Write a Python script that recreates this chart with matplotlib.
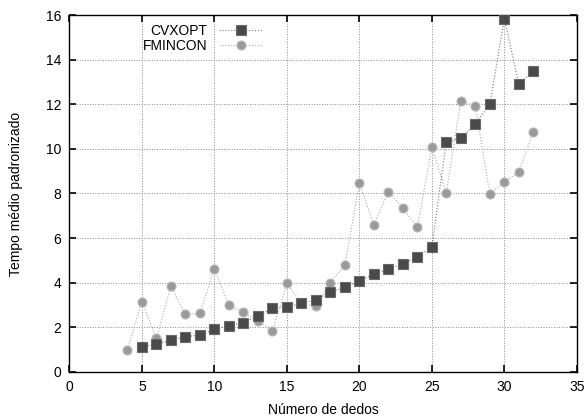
import numpy as np
import matplotlib
matplotlib.use("Agg")
import matplotlib.pyplot as plt

plt.rcParams['font.family'] = ['Liberation Sans', 'DejaVu Sans']

# dados
x_cvx = list(range(5, 33))
t_cvx = [1.13, 1.25, 1.43, 1.58, 1.65, 1.91, 2.07, 2.21, 2.5, 2.85, 2.92, 3.07, 3.24,
         3.57, 3.79, 4.08, 4.38, 4.61, 4.84, 5.15, 5.61, 10.32, 10.47, 11.12, 12.0,
         15.83, 12.9, 13.49]
x_fmin = list(range(4, 33))
t_fmin = [0.98, 3.15, 1.5, 3.85, 2.58, 2.63, 4.61, 3.0, 2.67, 2.3, 1.83, 3.97, 3.07,
          2.94, 4.0, 4.79, 8.46, 6.59, 8.08, 7.33, 6.48, 10.07, 8.04, 12.15, 11.92,
          7.98, 8.53, 8.95, 10.77]

fig = plt.figure(figsize=(5.88, 4.17), dpi=100)
ax = fig.add_axes([0.118, 0.108, 0.863, 0.856])

ax.plot(x_cvx, t_cvx, linestyle=':', color='#777777', linewidth=0.8,
        marker='s', markersize=6.5, markerfacecolor='#4a4a4a', markeredgecolor='#6a6a6a',
        markeredgewidth=0.8, label='CVXOPT', zorder=3)
ax.plot(x_fmin, t_fmin, linestyle=':', color='#aaaaaa', linewidth=0.8,
        marker='o', markersize=6.5, markerfacecolor='#9a9a9a', markeredgecolor='#bbbbbb',
        markeredgewidth=0.8, label='FMINCON', zorder=2)

ax.set_xlim(0, 35)
ax.set_ylim(0, 16)
ax.set_xticks(np.arange(0, 36, 5))
ax.set_yticks(np.arange(0, 17, 2))
ax.grid(True, linestyle=':', color='#888888', linewidth=0.7)
ax.tick_params(direction='in', top=True, right=True, labelsize=10, length=5, width=1.2,
               pad=6)
for s in ax.spines.values():
    s.set_linewidth(1.0)

ax.set_xlabel('Número de dedos', fontsize=10, labelpad=6)
ax.set_ylabel('Tempo médio padronizado', fontsize=10, labelpad=16)

leg = ax.legend(loc='upper left', bbox_to_anchor=(0.12, 1.01), frameon=False,
                markerfirst=False, fontsize=10, handlelength=3.2,
                labelspacing=0.05, handletextpad=0.8)
for t in leg.get_texts():
    t.set_ha('right')

fig.savefig('out.png', dpi=100)
